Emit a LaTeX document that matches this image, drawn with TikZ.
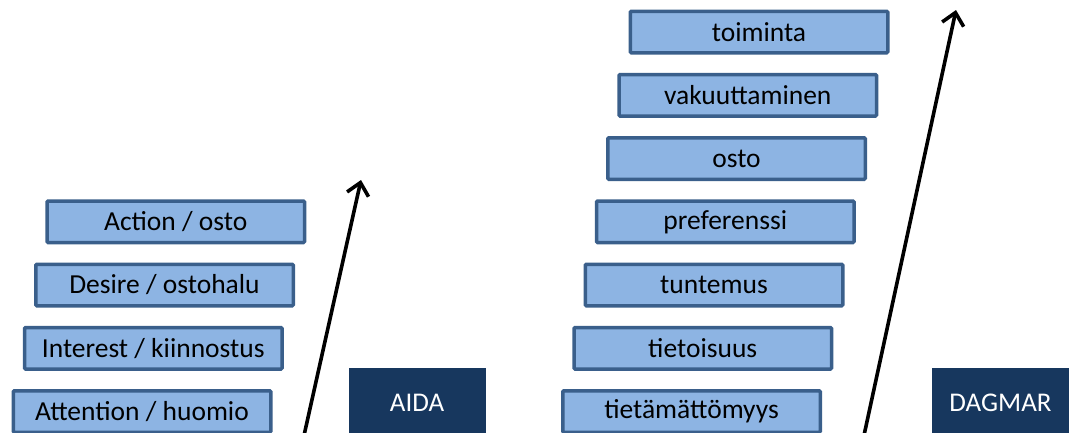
\documentclass[tikz,border=0pt]{standalone}
\usepackage{fontspec}
\setmainfont{Carlito}
\usepackage{tikz}
\usetikzlibrary{arrows.meta}
\definecolor{levelfill}{RGB}{141,180,227}
\definecolor{levelline}{RGB}{58,95,139}
\definecolor{modelfill}{RGB}{23,55,94}

\begin{document}
\begin{tikzpicture}[
   x=1pt,y=-1pt,
   font=\fontsize{27.5}{32}\selectfont,
   level/.style={draw=levelline,fill=levelfill,line width=3.5pt,rounded corners=1pt,minimum width=257.5pt,minimum height=41.5pt,inner sep=0pt},
   model/.style={fill=modelfill,text=white,minimum width=137pt,minimum height=70pt,inner sep=0pt,font=\fontsize{27}{32}\selectfont},
   up/.style={-{Straight Barb[length=12pt,width=22pt]},line width=3.6pt}]
\useasboundingbox (0,0) rectangle (1071,432);
\node[level] (A_{1}) at (142,411.5) {Attention / huomio};
\node[level] (A_{2}) at (153.25,348.25) {Interest / kiinnostus};
\node[level] (A_{3}) at (164.5,285) {Desire / ostohalu};
\node[level] (A_{4}) at (175.75,221.75) {Action / osto};
\node[model] (AIDA) at (417,403) {AIDA};
\coordinate (A_{start}) at (303,440);
\coordinate (A_{end}) at (361,180);
\draw[up] (A_{start}) -- (A_{end});
\node[level] (D_{1}) at (691.5,411.5) {tietämättömyys};
\node[level] (D_{2}) at (702.75,348.25) {tietoisuus};
\node[level] (D_{3}) at (714,285) {tuntemus};
\node[level] (D_{4}) at (725.25,221.75) {preferenssi};
\node[level] (D_{5}) at (736.5,158.5) {osto};
\node[level] (D_{6}) at (747.75,95.25) {vakuuttaminen};
\node[level] (D_{7}) at (759,32) {toiminta};
\node[model] (DAGMAR) at (1000.5,403) {DAGMAR};
\coordinate (D_{start}) at (863,440);
\coordinate (D_{end}) at (956,10);
\draw[up] (D_{start}) -- (D_{end});
\end{tikzpicture}
\end{document}
